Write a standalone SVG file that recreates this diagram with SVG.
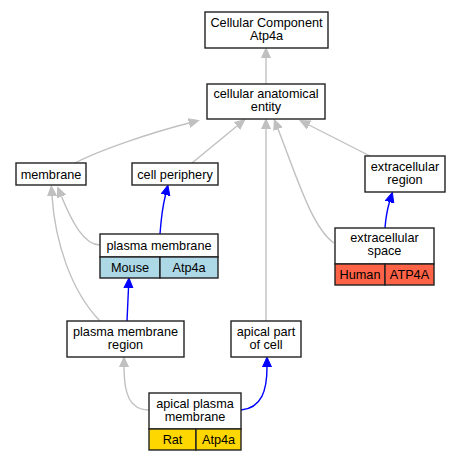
<svg xmlns="http://www.w3.org/2000/svg" width="461" height="461" viewBox="0 0 461 461">
<defs>
<style>
.box{fill:#fff;stroke:#222;stroke-width:1.4}
.cell{stroke:#222;stroke-width:1.4}
text{font-family:"Liberation Sans",Arial,sans-serif;font-size:12.7px;fill:#000;text-anchor:middle}
.g{fill:none;stroke:#c0c0c0;stroke-width:1.4}
.b{fill:none;stroke:#0000ff;stroke-width:1.4}
</style>
<marker id="ag" markerUnits="userSpaceOnUse" markerWidth="11" markerHeight="10" refX="0" refY="5" orient="auto" viewBox="0 0 11 10">
<path d="M0,0.5 L10,5 L0,9.5 z" fill="#c0c0c0" stroke="#c0c0c0"/>
</marker>
<marker id="ab" markerUnits="userSpaceOnUse" markerWidth="11" markerHeight="10" refX="0" refY="5" orient="auto" viewBox="0 0 11 10">
<path d="M0,0.5 L10,5 L0,9.5 z" fill="#0000ff" stroke="#0000ff"/>
</marker>
</defs>
<rect width="461" height="461" fill="#fff"/>
<g id="edges">
<path class="g" marker-end="url(#ag)" d="M266,84 L266,58"/>
<path class="g" marker-end="url(#ag)" d="M75,163 C100,150 150,133 189,123"/>
<path class="g" marker-end="url(#ag)" d="M192,163 L237,126"/>
<path class="g" marker-end="url(#ag)" d="M266,321 L266,129"/>
<path class="g" marker-end="url(#ag)" d="M334,243 C312,228 296,175 278,129"/>
<path class="g" marker-end="url(#ag)" d="M370,156 L309,125"/>
<path class="g" marker-end="url(#ag)" d="M100,245 C84,245 72,222 61.5,196.5"/>
<path class="g" marker-end="url(#ag)" d="M100,321 C70,290 55,240 52,196"/>
<path class="b" marker-end="url(#ab)" d="M160,234 C161,220 163,205 165.5,195"/>
<path class="b" marker-end="url(#ab)" d="M127,321 L128.5,288"/>
<path class="b" marker-end="url(#ab)" d="M385,228 C386,215 388,207 389.5,202"/>
<path class="g" marker-end="url(#ag)" d="M149,410 C130,410 124,395 124,367"/>
<path class="b" marker-end="url(#ab)" d="M241,410 C262,408 267,390 267,367"/>
</g>
<g id="cc">
<rect class="box" x="205" y="12" width="123" height="36"/>
<text x="266.5" y="26.5">Cellular Component</text>
<text x="266.5" y="40">Atp4a</text>
</g>
<g id="cae">
<rect class="box" x="207" y="84" width="118" height="35"/>
<text x="266" y="97.5">cellular anatomical</text>
<text x="266" y="111">entity</text>
</g>
<g id="membrane">
<rect class="box" x="16" y="163" width="70" height="22"/>
<text x="51" y="178.5">membrane</text>
</g>
<g id="cellperiphery">
<rect class="box" x="132" y="163" width="86" height="22"/>
<text x="175" y="178.5">cell periphery</text>
</g>
<g id="ecr">
<rect class="box" x="365" y="156" width="80" height="36"/>
<text x="405" y="170.5">extracellular</text>
<text x="405" y="183.5">region</text>
</g>
<g id="pm">
<rect class="box" x="100" y="234" width="118" height="23"/>
<rect class="cell" x="100" y="257" width="60" height="21" fill="#add8e6"/>
<rect class="cell" x="160" y="257" width="58" height="21" fill="#add8e6"/>
<text x="159" y="250">plasma membrane</text>
<text x="130" y="272">Mouse</text>
<text x="189" y="272">Atp4a</text>
</g>
<g id="ecs">
<rect class="box" x="335" y="228" width="99" height="36"/>
<rect class="cell" x="335" y="264" width="50" height="21" fill="#ff6347"/>
<rect class="cell" x="385" y="264" width="49" height="21" fill="#ff6347"/>
<text x="384.5" y="241.5">extracellular</text>
<text x="384.5" y="255">space</text>
<text x="360" y="278.5">Human</text>
<text x="409.5" y="278.5">ATP4A</text>
</g>
<g id="pmr">
<rect class="box" x="67" y="321" width="117" height="36"/>
<text x="125.5" y="335.5">plasma membrane</text>
<text x="125.5" y="349">region</text>
</g>
<g id="apc">
<rect class="box" x="231" y="321" width="70" height="36"/>
<text x="266" y="335.5">apical part</text>
<text x="266" y="349">of cell</text>
</g>
<g id="apm">
<rect class="box" x="149" y="393" width="92" height="36"/>
<rect class="cell" x="149" y="429" width="47" height="21" fill="#ffd700"/>
<rect class="cell" x="196" y="429" width="45" height="21" fill="#ffd700"/>
<text x="195" y="407.5">apical plasma</text>
<text x="195" y="421">membrane</text>
<text x="172.5" y="443.5">Rat</text>
<text x="218.5" y="443.5">Atp4a</text>
</g>
</svg>
